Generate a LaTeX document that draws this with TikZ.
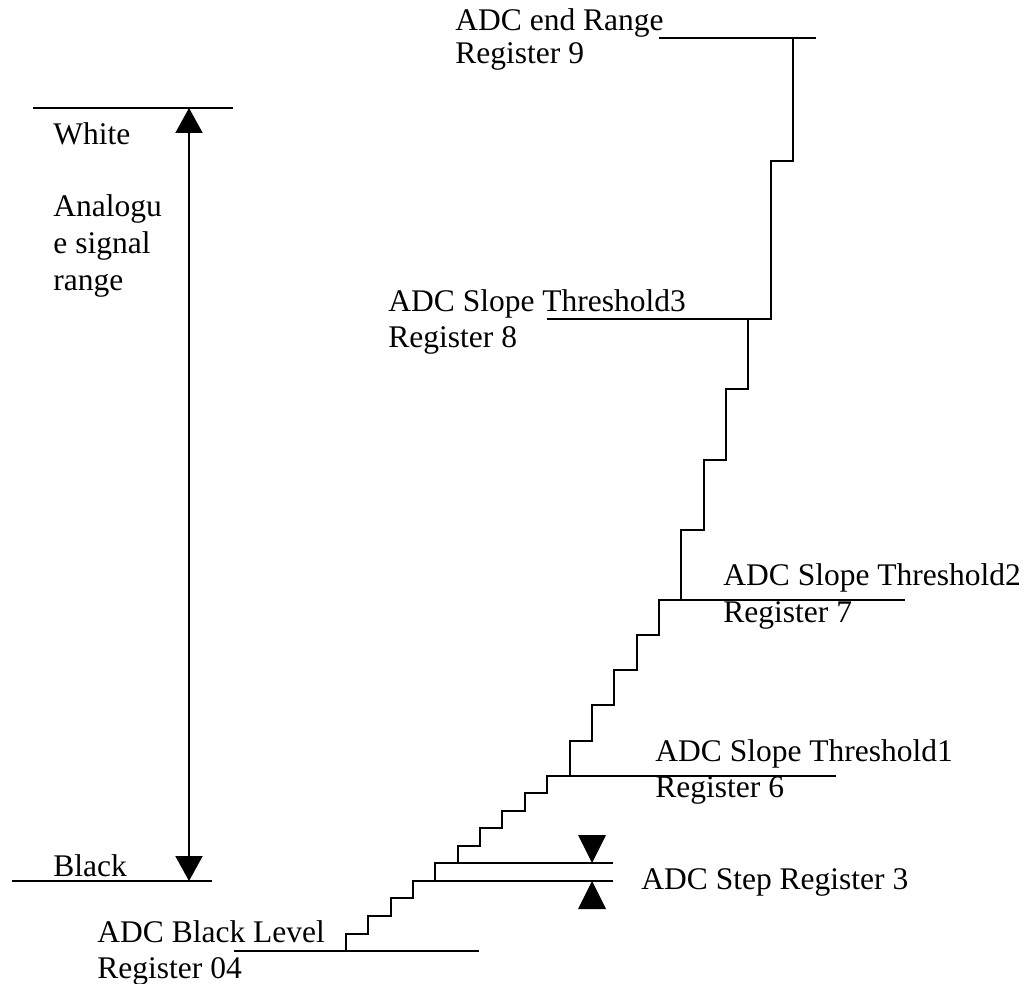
\documentclass[tikz,border=0pt]{standalone}
\usepackage{fontspec}
\setmainfont{Liberation Serif}
\usetikzlibrary{arrows.meta}

\tikzset{
  lvl/.style={line width=1pt},
  lbl/.style={anchor=base west, inner sep=0pt, font=\fontsize{15.75}{18}\selectfont},
  rangearrow/.style={line width=1pt, {Triangle[width=13.5pt,length=12.5pt]}-{Triangle[width=13.5pt,length=12.5pt]}}
}

\begin{document}
\begin{tikzpicture}[x=0.5pt,y=-0.5pt]

\useasboundingbox (0,0) rectangle (1028,984);

% Analogue range
\draw[lvl] (33,108) -- (233,108);
\draw[lvl] (12,881) -- (212,881);
\coordinate (white) at (189,108);
\coordinate (black) at (189,881);
\draw[rangearrow] (white) -- (black);

\node[lbl] (whitetxt) at (53,145) {White};
\node[lbl] (blacktxt) at (53,876) {Black};
\node[lbl] (ana1) at (53,217) {Analogu};
\node[lbl] (ana2) at (53,254) {e signal};
\node[lbl] (ana3) at (53,291) {range};

% Register levels
\draw[lvl] (234,951) -- (479,951);   % black level
\draw[lvl] (413,881) -- (613,881);   % step
\draw[lvl] (435,863) -- (613,863);
\draw[lvl] (547,776) -- (836,776);   % threshold1
\draw[lvl] (659,600) -- (905,600);   % threshold2
\draw[lvl] (547,319) -- (771,319);   % threshold3
\draw[lvl] (659,38) -- (816,38);     % end range

% Staircase
\draw[lvl] (346,951)
  \foreach \y [count=\k from 0] in {934,916,898,881,863,846,828,811,793,776,
                                    741,705,670,635,600,530,460,389,319,161,38}
  { -- (346+22.35*\k,\y) -- (346+22.35*\k+22.35,\y) };

% Step markers
\fill (578,835) -- (606,835) -- (592,863) -- cycle;
\fill (578,909) -- (606,909) -- (592,881) -- cycle;

% Labels
\node[lbl] (end1) at (455,31) {ADC end Range};
\node[lbl] (end2) at (455,64) {Register 9};
\node[lbl] (th31) at (388,312) {ADC Slope Threshold3};
\node[lbl] (th32) at (388,348) {Register 8};
\node[lbl] (th21) at (723,585) {ADC Slope Threshold2};
\node[lbl] (th22) at (723,622) {Register 7};
\node[lbl] (th11) at (655,761) {ADC Slope Threshold1};
\node[lbl] (th12) at (655,797) {Register 6};
\node[lbl] (steptxt) at (641,889) {ADC Step Register 3};
\node[lbl] (blk1) at (97,942) {ADC Black Level};
\node[lbl] (blk2) at (97,978) {Register 04};

\end{tikzpicture}
\end{document}
